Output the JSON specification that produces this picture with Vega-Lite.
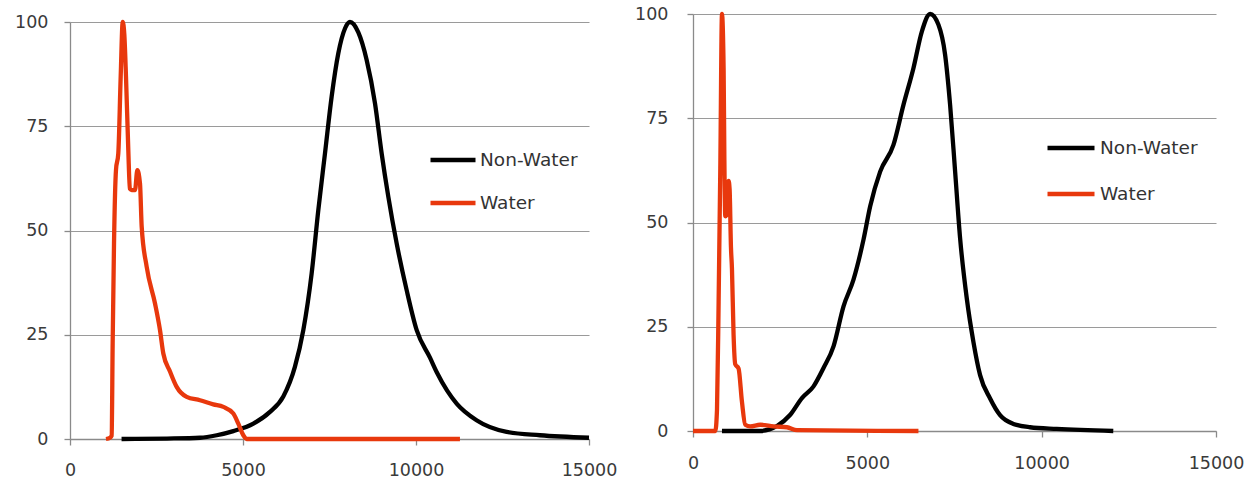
{
"$schema":"https://vega.github.io/schema/vega-lite/v6.json",
"padding":{"left":14,"top":5,"right":0,"bottom":0},
"background":"white",
"data":{"values":[
{"p":"L","s":"Non-Water","x":1490,"y":0},{"p":"L","s":"Non-Water","x":2800,"y":0.1},{"p":"L","s":"Non-Water","x":3760,"y":0.3},{"p":"L","s":"Non-Water","x":4240,"y":0.9},{"p":"L","s":"Non-Water","x":4720,"y":1.9},{"p":"L","s":"Non-Water","x":5300,"y":3.7},{"p":"L","s":"Non-Water","x":5780,"y":6.5},{"p":"L","s":"Non-Water","x":6165,"y":10.2},{"p":"L","s":"Non-Water","x":6500,"y":17.3},{"p":"L","s":"Non-Water","x":6743,"y":26.1},{"p":"L","s":"Non-Water","x":6984,"y":39.7},{"p":"L","s":"Non-Water","x":7177,"y":54.9},{"p":"L","s":"Non-Water","x":7370,"y":68.5},{"p":"L","s":"Non-Water","x":7562,"y":82.1},{"p":"L","s":"Non-Water","x":7755,"y":92.5},{"p":"L","s":"Non-Water","x":7950,"y":98.5},{"p":"L","s":"Non-Water","x":8092,"y":100},{"p":"L","s":"Non-Water","x":8333,"y":97.5},{"p":"L","s":"Non-Water","x":8574,"y":90.9},{"p":"L","s":"Non-Water","x":8815,"y":80.5},{"p":"L","s":"Non-Water","x":9007,"y":68.5},{"p":"L","s":"Non-Water","x":9200,"y":58.1},{"p":"L","s":"Non-Water","x":9441,"y":46.9},{"p":"L","s":"Non-Water","x":9730,"y":35.7},{"p":"L","s":"Non-Water","x":10020,"y":26.1},{"p":"L","s":"Non-Water","x":10404,"y":19.5},{"p":"L","s":"Non-Water","x":10600,"y":16},{"p":"L","s":"Non-Water","x":10900,"y":11.6},{"p":"L","s":"Non-Water","x":11175,"y":8.5},{"p":"L","s":"Non-Water","x":11750,"y":4.5},{"p":"L","s":"Non-Water","x":12620,"y":1.7},{"p":"L","s":"Non-Water","x":13580,"y":0.9},{"p":"L","s":"Non-Water","x":15000,"y":0.3},
{"p":"L","s":"Water","x":1040,"y":0},{"p":"L","s":"Water","x":1156,"y":0.3},{"p":"L","s":"Water","x":1204,"y":0.8},{"p":"L","s":"Water","x":1233,"y":22.9},{"p":"L","s":"Water","x":1272,"y":46.9},{"p":"L","s":"Water","x":1329,"y":64.5},{"p":"L","s":"Water","x":1396,"y":68.5},{"p":"L","s":"Water","x":1465,"y":86.9},{"p":"L","s":"Water","x":1523,"y":100},{"p":"L","s":"Water","x":1570,"y":97},{"p":"L","s":"Water","x":1618,"y":87},{"p":"L","s":"Water","x":1685,"y":69.3},{"p":"L","s":"Water","x":1730,"y":60},{"p":"L","s":"Water","x":1783,"y":59.7},{"p":"L","s":"Water","x":1879,"y":59.7},{"p":"L","s":"Water","x":1946,"y":64.5},{"p":"L","s":"Water","x":2023,"y":61.3},{"p":"L","s":"Water","x":2072,"y":50.9},{"p":"L","s":"Water","x":2216,"y":41.3},{"p":"L","s":"Water","x":2457,"y":32.5},{"p":"L","s":"Water","x":2601,"y":26.1},{"p":"L","s":"Water","x":2697,"y":20.5},{"p":"L","s":"Water","x":2890,"y":16.2},{"p":"L","s":"Water","x":3083,"y":12.5},{"p":"L","s":"Water","x":3372,"y":10.1},{"p":"L","s":"Water","x":3757,"y":9.3},{"p":"L","s":"Water","x":4142,"y":8.3},{"p":"L","s":"Water","x":4431,"y":7.7},{"p":"L","s":"Water","x":4720,"y":6.1},{"p":"L","s":"Water","x":4864,"y":3.7},{"p":"L","s":"Water","x":5009,"y":0.9},{"p":"L","s":"Water","x":5105,"y":0},{"p":"L","s":"Water","x":11270,"y":0},
{"p":"R","s":"Non-Water","x":831,"y":0},{"p":"R","s":"Non-Water","x":1929,"y":0},{"p":"R","s":"Non-Water","x":2407,"y":1.2},{"p":"R","s":"Non-Water","x":2789,"y":3.9},{"p":"R","s":"Non-Water","x":3124,"y":7.9},{"p":"R","s":"Non-Water","x":3457,"y":10.7},{"p":"R","s":"Non-Water","x":3743,"y":15.1},{"p":"R","s":"Non-Water","x":4030,"y":20.3},{"p":"R","s":"Non-Water","x":4317,"y":29.9},{"p":"R","s":"Non-Water","x":4603,"y":36.3},{"p":"R","s":"Non-Water","x":4890,"y":45.9},{"p":"R","s":"Non-Water","x":5082,"y":53.9},{"p":"R","s":"Non-Water","x":5368,"y":62.2},{"p":"R","s":"Non-Water","x":5749,"y":68.6},{"p":"R","s":"Non-Water","x":6036,"y":78.2},{"p":"R","s":"Non-Water","x":6322,"y":87},{"p":"R","s":"Non-Water","x":6563,"y":95.8},{"p":"R","s":"Non-Water","x":6801,"y":100},{"p":"R","s":"Non-Water","x":7040,"y":97.4},{"p":"R","s":"Non-Water","x":7231,"y":90.2},{"p":"R","s":"Non-Water","x":7374,"y":78.2},{"p":"R","s":"Non-Water","x":7518,"y":62.2},{"p":"R","s":"Non-Water","x":7661,"y":46.2},{"p":"R","s":"Non-Water","x":7852,"y":31.8},{"p":"R","s":"Non-Water","x":8042,"y":21.4},{"p":"R","s":"Non-Water","x":8234,"y":13.4},{"p":"R","s":"Non-Water","x":8521,"y":7.8},{"p":"R","s":"Non-Water","x":8807,"y":3.8},{"p":"R","s":"Non-Water","x":9189,"y":1.7},{"p":"R","s":"Non-Water","x":9667,"y":0.9},{"p":"R","s":"Non-Water","x":10432,"y":0.5},{"p":"R","s":"Non-Water","x":12054,"y":0},
{"p":"R","s":"Water","x":0,"y":0},{"p":"R","s":"Water","x":640,"y":0},{"p":"R","s":"Water","x":688,"y":5},{"p":"R","s":"Water","x":735,"y":31},{"p":"R","s":"Water","x":783,"y":63},{"p":"R","s":"Water","x":831,"y":100},{"p":"R","s":"Water","x":878,"y":87},{"p":"R","s":"Water","x":900,"y":65},{"p":"R","s":"Water","x":926,"y":51.5},{"p":"R","s":"Water","x":975,"y":52},{"p":"R","s":"Water","x":1000,"y":58},{"p":"R","s":"Water","x":1021,"y":60},{"p":"R","s":"Water","x":1050,"y":58},{"p":"R","s":"Water","x":1089,"y":44},{"p":"R","s":"Water","x":1117,"y":39},{"p":"R","s":"Water","x":1164,"y":23},{"p":"R","s":"Water","x":1212,"y":16},{"p":"R","s":"Water","x":1307,"y":15},{"p":"R","s":"Water","x":1404,"y":7},{"p":"R","s":"Water","x":1499,"y":1.5},{"p":"R","s":"Water","x":1642,"y":1.1},{"p":"R","s":"Water","x":1929,"y":1.5},{"p":"R","s":"Water","x":2310,"y":1.1},{"p":"R","s":"Water","x":2694,"y":0.9},{"p":"R","s":"Water","x":2981,"y":0.2},{"p":"R","s":"Water","x":6466,"y":0}
]},
"spacing":17,
"config":{
  "view":{"stroke":null},
  "font":"DejaVu Sans",
  "axis":{"labelFont":"DejaVu Sans","labelFontSize":17.5,"labelColor":"#3a3a3a","domainColor":"#8a8a8a","tickColor":"#8a8a8a","gridColor":"#9a9a9a","tickSize":6,"title":null,"domainWidth":1.3,"tickWidth":1.3,"gridWidth":1.1,"labelFlush":false,"labelOverlap":false},
  "legend":{"labelFont":"DejaVu Sans","labelFontSize":18.5,"labelColor":"#333333","symbolType":"stroke","symbolStrokeWidth":4.5,"padding":0,"title":null},
  "line":{"strokeWidth":4.3,"interpolate":"monotone"}
},
"resolve":{"legend":{"color":"independent"}},
"hconcat":[
 {"vconcat":[
   {"width":519,"height":1,"mark":{"type":"point","opacity":0}},
   {"width":519,"height":417,
    "transform":[{"filter":"datum.p==='L'"}],
    "mark":{"type":"line"},
    "encoding":{
     "x":{"field":"x","type":"quantitative","scale":{"domain":[0,15000],"nice":false},"axis":{"values":[0,5000,10000,15000],"grid":false,"labelPadding":16.5,"format":"d"}},
     "y":{"field":"y","type":"quantitative","scale":{"domain":[0,100],"nice":false},"axis":{"values":[0,25,50,75,100],"grid":true,"labelPadding":16}},
     "color":{"field":"s","type":"nominal","scale":{"domain":["Non-Water","Water"],"range":["#000000","#e8380d"]},"legend":{"orient":"none","legendX":358,"legendY":113,"symbolSize":2025,"rowPadding":8,"labelOffset":2}}
    }}
  ],
  "spacing":7,
  "bounds":"flush",
  "resolve":{"legend":{"color":"independent"}}
 },
 {"width":523,"height":417,
  "transform":[{"filter":"datum.p==='R'"}],
  "mark":{"type":"line"},
  "encoding":{
   "x":{"field":"x","type":"quantitative","scale":{"domain":[0,15000],"nice":false},"axis":{"values":[0,5000,10000,15000],"grid":false,"labelPadding":17.5,"format":"d"}},
   "y":{"field":"y","type":"quantitative","scale":{"domain":[0,100],"nice":false},"axis":{"values":[0,25,50,75,100],"grid":true,"labelPadding":19}},
   "color":{"field":"s","type":"nominal","scale":{"domain":["Non-Water","Water"],"range":["#000000","#e8380d"]},"legend":{"orient":"none","legendX":352,"legendY":108,"symbolSize":2209,"rowPadding":10,"labelOffset":3}}
  }}
]
}
